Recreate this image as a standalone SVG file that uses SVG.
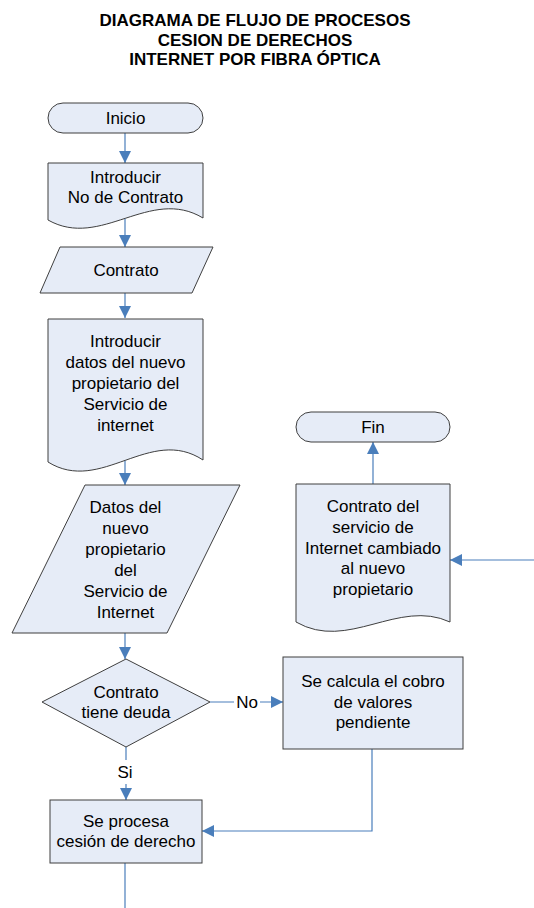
<svg xmlns="http://www.w3.org/2000/svg" width="534" height="908" viewBox="0 0 534 908">
<style>
.n{fill:#E6ECF7;stroke:#3F3F3F;stroke-width:1}
.t{font-family:"Liberation Sans",Arial,sans-serif;font-size:17px;fill:#000;text-anchor:middle}
.h{font-family:"Liberation Sans",Arial,sans-serif;font-size:17px;font-weight:bold;fill:#000;text-anchor:middle}
.c{fill:none;stroke:#4A7EBB;stroke-width:1.2}
</style>
<defs>
<marker id="a" markerUnits="userSpaceOnUse" markerWidth="12" markerHeight="12" refX="12" refY="6" orient="auto">
<path d="M0,0 L12,6 L0,12 z" fill="#4A7EBB"/>
</marker>
</defs>
<rect width="534" height="908" fill="#fff"/>
<g id="title">
<text class="h" x="255" y="26">DIAGRAMA DE FLUJO DE PROCESOS</text>
<text class="h" x="255" y="46">CESION DE DERECHOS</text>
<text class="h" x="255" y="65">INTERNET POR FIBRA ÓPTICA</text>
</g>
<g id="connectors">
<path class="c" d="M125,133 V163" marker-end="url(#a)"/>
<path class="c" d="M125,218 V247" marker-end="url(#a)"/>
<path class="c" d="M125,293 V318" marker-end="url(#a)"/>
<path class="c" d="M125,460 V485" marker-end="url(#a)"/>
<path class="c" d="M125,633 V659" marker-end="url(#a)"/>
<path class="c" d="M210,702 H283" marker-end="url(#a)"/>
<path class="c" d="M126,747 V800" marker-end="url(#a)"/>
<path class="c" d="M372,749 V831 H202" marker-end="url(#a)"/>
<path class="c" d="M125,863 V908"/>
<path class="c" d="M534,560 H450" marker-end="url(#a)"/>
<path class="c" d="M373,484 V442" marker-end="url(#a)"/>
<rect x="234" y="692" width="26" height="20" fill="#fff"/>
<text class="t" x="247" y="708">No</text>
<rect x="115" y="760" width="22" height="24" fill="#fff"/>
<text class="t" x="125" y="778">Si</text>
</g>
<g id="inicio">
<rect class="n" x="48" y="103" width="155" height="30" rx="15"/>
<text class="t" x="125.5" y="124">Inicio</text>
</g>
<g id="introducir-contrato">
<path class="n" d="M48,163 H203 V218 C150,186 101,250 48,220 Z"/>
<text class="t" x="125.5" y="183">Introducir</text>
<text class="t" x="125.5" y="203">No de Contrato</text>
</g>
<g id="contrato">
<polygon class="n" points="60,247 213,247 192,293 40,293"/>
<text class="t" x="126" y="276">Contrato</text>
</g>
<g id="introducir-datos">
<path class="n" d="M48,319 H203 V460 C150,425 101,495 48,462 Z"/>
<text class="t" x="125.5" y="347">Introducir</text>
<text class="t" x="125.5" y="368">datos del nuevo</text>
<text class="t" x="125.5" y="389">propietario del</text>
<text class="t" x="125.5" y="410">Servicio de</text>
<text class="t" x="125.5" y="431">internet</text>
</g>
<g id="datos">
<polygon class="n" points="85,485 240,485 167,633 12,633"/>
<text class="t" x="125.5" y="513">Datos del</text>
<text class="t" x="125.5" y="534">nuevo</text>
<text class="t" x="125.5" y="555">propietario</text>
<text class="t" x="125.5" y="576">del</text>
<text class="t" x="125.5" y="597">Servicio de</text>
<text class="t" x="125.5" y="618">Internet</text>
</g>
<g id="deuda">
<polygon class="n" points="126,659 210,702 126,747 42,702"/>
<text class="t" x="126" y="698">Contrato</text>
<text class="t" x="126" y="718">tiene deuda</text>
</g>
<g id="calcula">
<rect class="n" x="283" y="657" width="180" height="92"/>
<text class="t" x="373" y="687">Se calcula el cobro</text>
<text class="t" x="373" y="708">de valores</text>
<text class="t" x="373" y="728">pendiente</text>
</g>
<g id="procesa">
<rect class="n" x="50" y="800" width="152" height="63"/>
<text class="t" x="126" y="827">Se procesa</text>
<text class="t" x="126" y="847">cesión de derecho</text>
</g>
<g id="fin">
<rect class="n" x="296" y="412" width="154" height="30" rx="15"/>
<text class="t" x="373" y="433">Fin</text>
</g>
<g id="contrato-cambiado">
<path class="n" d="M296,484 H450 V622 C398,598 348,652 296,622 Z"/>
<text class="t" x="373" y="512">Contrato del</text>
<text class="t" x="373" y="533">servicio de</text>
<text class="t" x="373" y="554">Internet cambiado</text>
<text class="t" x="373" y="574">al nuevo</text>
<text class="t" x="373" y="595">propietario</text>
</g>
</svg>
